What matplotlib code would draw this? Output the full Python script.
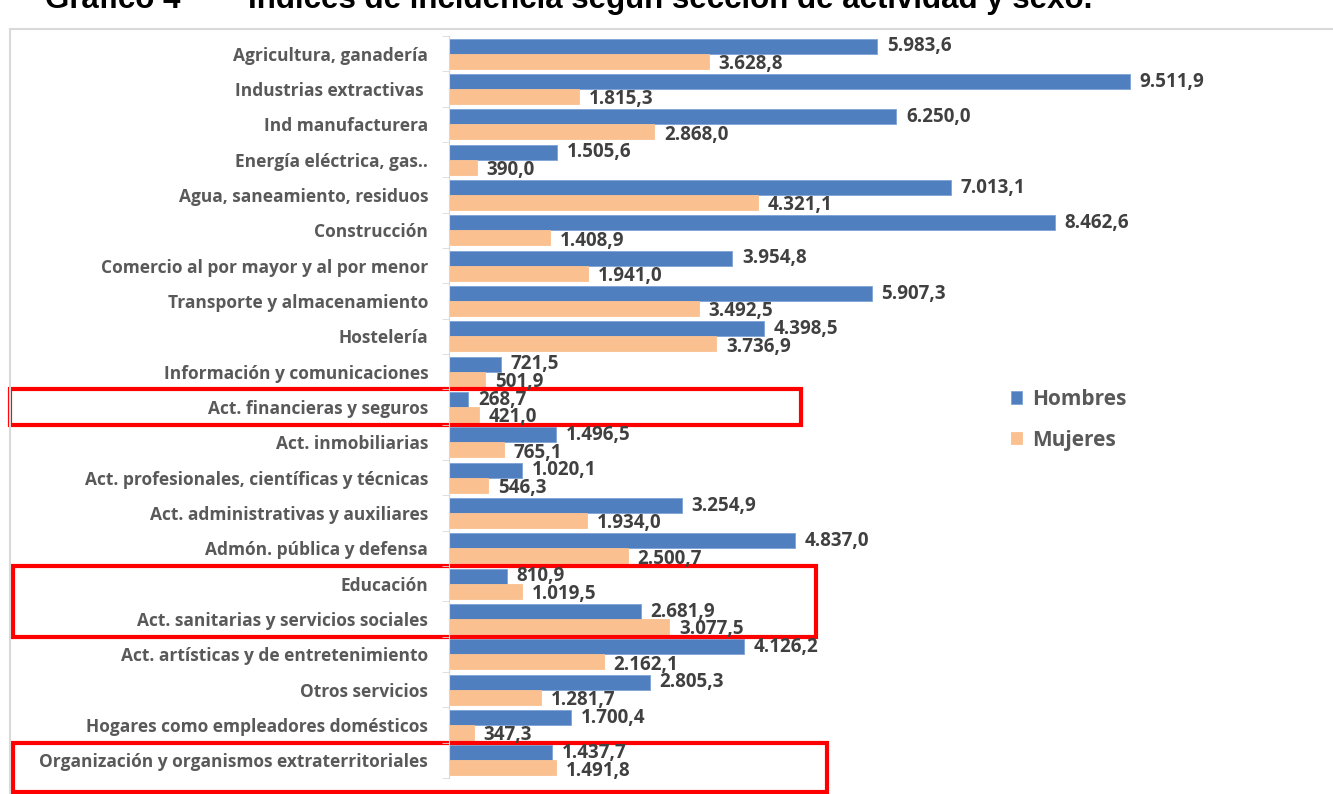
import matplotlib.pyplot as plt
from matplotlib.patches import Rectangle
from matplotlib.transforms import blended_transform_factory

categorias = [
    'Agricultura, ganadería', 'Industrias extractivas ', 'Ind manufacturera',
    'Energía eléctrica, gas..', 'Agua, saneamiento, residuos', 'Construcción',
    'Comercio al por mayor y al por menor', 'Transporte y almacenamiento',
    'Hostelería', 'Información y comunicaciones', 'Act. financieras y seguros',
    'Act. inmobiliarias', 'Act. profesionales, científicas y técnicas',
    'Act. administrativas y auxiliares', 'Admón. pública y defensa',
    'Educación', 'Act. sanitarias y servicios sociales',
    'Act. artísticas y de entretenimiento', 'Otros servicios',
    'Hogares como empleadores domésticos',
    'Organización y organismos extraterritoriales',
]
hombres = [5983.6, 9511.9, 6250.0, 1505.6, 7013.1, 8462.6, 3954.8, 5907.3,
           4398.5, 721.5, 268.7, 1496.5, 1020.1, 3254.9, 4837.0, 810.9,
           2681.9, 4126.2, 2805.3, 1700.4, 1437.7]
mujeres = [3628.8, 1815.3, 2868.0, 390.0, 4321.1, 1408.9, 1941.0, 3492.5,
           3736.9, 501.9, 421.0, 765.1, 546.3, 1934.0, 2500.7, 1019.5,
           3077.5, 2162.1, 1281.7, 347.3, 1491.8]
# filas resaltadas con recuadro rojo (primera, ultima, x izq, x der en px)
recuadros = [(10, 10, 10, 801), (15, 16, 13, 816), (20, 20, 13, 827)]

azul = '#4F7FBE'
naranja = '#FAC090'
gris = '#595959'


def fmt(v):
    s = f'{v:,.1f}'
    return s.replace(',', 'X').replace('.', ',').replace('X', '.')


W, H = 1333, 794
fig = plt.figure(figsize=(W / 100, H / 100), dpi=100)
ax = fig.add_axes([449 / W, 1 - 778 / H, 859 / W, 742 / H])

y = list(range(len(categorias)))
h = 0.42
b1 = ax.barh([i - h / 2 for i in y], hombres, height=h, color=azul,
             edgecolor='#7EA3D6', linewidth=0.6, label='Hombres')
b2 = ax.barh([i + h / 2 for i in y], mujeres, height=h, color=naranja,
             edgecolor=naranja, linewidth=0.6, label='Mujeres')

for bars, vals, dy in ((b1, hombres, 0), (b2, mujeres, 2)):
    for r, v in zip(bars, vals):
        ax.annotate(fmt(v), (v, r.get_y() + r.get_height() / 2),
                    xytext=(7, -dy), textcoords='offset points',
                    va='center', ha='left', fontsize=13.5, fontweight='bold',
                    color='#404040', family='Open Sans')

ax.set_xlim(0, 12000)
ax.set_ylim(len(categorias) - 0.5, -0.5)
ax.set_yticks(y)
ax.set_yticklabels(categorias, fontsize=12.5, color=gris, family='Open Sans',
                   fontweight='bold')
ax.tick_params(axis='y', which='major', length=0, pad=15)
ax.set_yticks([i - 0.5 for i in range(len(categorias) + 1)], minor=True)
ax.tick_params(axis='y', which='minor', length=5, color='#D9D9D9')
ax.set_xticks([])
for s in ('top', 'right', 'bottom'):
    ax.spines[s].set_visible(False)
ax.spines['left'].set_color('#D9D9D9')

fig.legend(handles=[b1, b2], loc='upper left',
           bbox_to_anchor=(992 / W, 1 - 370 / H), frameon=False,
           prop={'family': 'Open Sans', 'weight': 'bold', 'size': 15},
           labelcolor=gris, handlelength=0.55, handleheight=0.55,
           handletextpad=0.5, labelspacing=0.95)

# marco del grafico
fig.patches.append(Rectangle((10 / W, -0.05), 1.2, 1 - 29 / H + 0.05,
                             transform=fig.transFigure, fill=False,
                             edgecolor='#D9D9D9', linewidth=1.5))

tr = blended_transform_factory(fig.transFigure, ax.transData)
for a, b, x0, x1 in recuadros:
    y0 = a - 0.5
    alto = b - a + 1
    if b == len(categorias) - 1:
        alto += 0.4
    ax.add_patch(Rectangle((x0 / W, y0), (x1 - x0) / W, alto, transform=tr,
                           fill=False, edgecolor='#FF0000', linewidth=3,
                           clip_on=False))

fig.text(45 / W, 1 - 8 / H, 'Gráfico 4', fontsize=22.5, fontweight='bold',
         family='Liberation Sans', va='baseline', ha='left')
fig.text(248 / W, 1 - 8 / H,
         'Índices de incidencia según sección de actividad y sexo.',
         fontsize=22.5, fontweight='bold', family='Liberation Sans',
         va='baseline', ha='left')

fig.savefig('out.png', dpi=100)
